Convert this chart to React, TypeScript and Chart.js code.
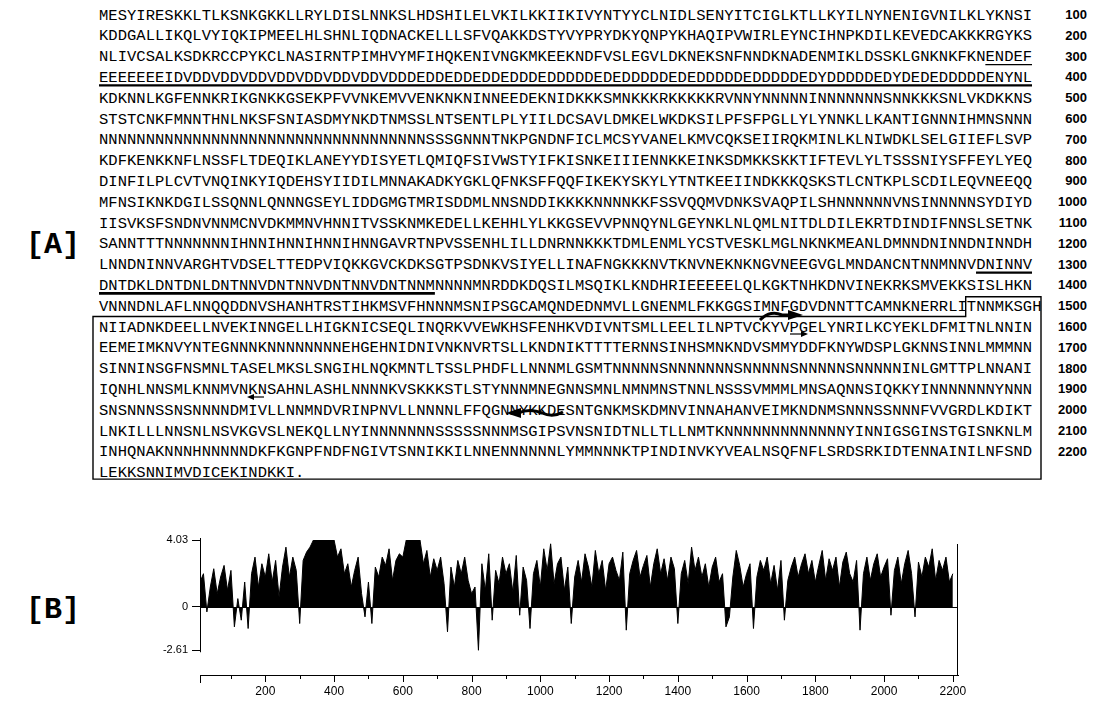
import React, { useEffect, useRef } from "react";
import { Chart, registerables } from "chart.js";

Chart.register(...registerables);

// ---------- data ----------
const sequenceLines: string[] = [
  "MESYIRESKKLTLKSNKGKKLLRYLDISLNNKSLHDSHILELVKILKKIIKIVYNTYYCLNIDLSENYITCIGLKTLLKYILNYNENIGVNILKLYKNSI",
  "KDDGALLIKQLVYIQKIPMEELHLSHNLIQDNACKELLLSFVQAKKDSTYVYPRYDKYQNPYKHAQIPVWIRLEYNCIHNPKDILKEVEDCAKKKRGYKS",
  "NLIVCSALKSDKRCCPYKCLNASIRNTPIMHVYMFIHQKENIVNGKMKEEKNDFVSLEGVLDKNEKSNFNNDKNADENMIKLDSSKLGNKNKFKNENDEF",
  "EEEEEEEIDVDDVDDVDDVDDVDDVDDVDDVDDDEDDEDDEDDEDDDEDDDDDEDEDDDDDEDEDDDDDEDDDDDEDYDDDDDEDYDEDEDDDDDENYNL",
  "KDKNNLKGFENNKRIKGNKKGSEKPFVVNKEMVVENKNKNINNEEDEKNIDKKKSMNKKKRKKKKKRVNNYNNNNNINNNNNNNSNNKKKSNLVKDKKNS",
  "STSTCNKFMNNTHNLNKSFSNIASDMYNKDTNMSSLNTSENTLPLYIILDCSAVLDMKELWKDKSILPFSFPGLLYLYNNKLLKANTIGNNNIHMNSNNN",
  "NNNNNNNNNNNNNNNNNNNNNNNNNNNNNNNNNNNSSSGNNNTNKPGNDNFICLMCSYVANELKMVCQKSEIIRQKMINLKLNIWDKLSELGIIEFLSVP",
  "KDFKENKKNFLNSSFLTDEQIKLANEYYDISYETLQMIQFSIVWSTYIFKISNKEIIIENNKKEINKSDMKKSKKTIFTEVLYLTSSSNIYSFFEYLYEQ",
  "DINFILPLCVTVNQINKYIQDEHSYIIDILMNNAKADKYGKLQFNKSFFQQFIKEKYSKYLYTNTKEEIINDKKKQSKSTLCNTKPLSCDILEQVNEEQQ",
  "MFNSIKNKDGILSSQNNLQNNNGSEYLIDDGMGTMRISDDMLNNSNDDIKKKKNNNNKKFSSVQQMVDNKSVAQPILSHNNNNNNVNSINNNNNSYDIYD",
  "IISVKSFSNDNVNNMCNVDKMMNVHNNITVSSKNMKEDELLKEHHLYLKKGSEVVPNNQYNLGEYNKLNLQMLNITDLDILEKRTDINDIFNNSLSETNK",
  "SANNTTTNNNNNNNIHNNIHNNIHNNIHNNGAVRTNPVSSENHLILLDNRNNKKKTDMLENMLYCSTVESKLMGLNKNKMEANLDMNNDNINNDNINNDH",
  "LNNDNINNVARGHTVDSELTTEDPVIQKKGVCKDKSGTPSDNKVSIYELLINAFNGKKKNVTKNVNEKNKNGVNEEGVGLMNDANCNTNNMNNVDNINNV",
  "DNTDKLDNTDNLDNTNNVDNTNNVDNTNNVDNTNNMNNNNMNRDDKDQSILMSQIKLKNDHRIEEEEELQLKGKTNHKDNVINEKRKSMVEKKSISLHKN",
  "VNNNDNLAFLNNQQDDNVSHANHTRSTIHKMSVFHNNNMSNIPSGCAMQNDEDNMVLLGNENMLFKKGGSIMNFGDVDNNTTCAMNKNERRLITNNMKSGH",
  "NIIADNKDEELLNVEKINNGELLHIGKNICSEQLINQRKVVEWKHSFENHKVDIVNTSMLLEELILNPTVCKYVPGELYNRILKCYEKLDFMITNLNNIN",
  "EEMEIMKNVYNTEGNNNKNNNNNNNNEHGEHNIDNIVNKNVRTSLLKNDNIKTTTTERNNSINHSMNKNDVSMMYDDFKNYWDSPLGKNNSINNLMMMNN",
  "SINNINSGFNSMNLTASELMKSLSNGIHLNQKMNTLTSSLPHDFLLNNNMLGSMTNNNNNSNNNNNNNSNNNNNSNNNNNSNNNNNINLGMTTPLNNANI",
  "IQNHLNNSMLKNNMVNKNSAHNLASHLNNNNKVSKKKSTLSTYNNNMNEGNNSMNLNMNMNSTNNLNSSSVMMMLMNSAQNNSIQKKYINNNNNNNYNNN",
  "SNSNNNSSNSNNNNDMIVLLNNMNDVRINPNVLLNNNNLFFQGNNYKKDESNTGNKMSKDMNVINNAHANVEIMKNDNMSNNNSSNNNFVVGRDLKDIKT",
  "LNKILLLNNSNLNSVKGVSLNEKQLLNYINNNNNNNSSSSSNNNMSGIPSVNSNIDTNLLTLLNMTKNNNNNNNNNNNNNYINNIGSGINSTGISNKNLM",
  "INHQNAKNNNHNNNNNDKFKGNPFNDFNGIVTSNNIKKILNNENNNNNNLYMMNNNKTPINDINVKYVEALNSQFNFLSRDSRKIDTENNAINILNFSND",
  "LEKKSNNIMVDICEKINDKKI.",
];

const lineNumbers: string[] = [
  "100", "200", "300", "400", "500", "600", "700", "800", "900", "1000", "1100",
  "1200", "1300", "1400", "1500", "1600", "1700", "1800", "1900", "2000", "2100", "2200",
];

const panelLabels: string[] = ["[A]", "[B]"];

// hydrophilicity profile, sampled every 10 residues starting at residue 10
const profileStart = 10;
const profileStep = 10;
const hydrophilicity: number[] = [
  1.5, 2.0, -0.3, 1.2, 2.3, 0.8, 1.8, 2.5, 1.0, 2.2,
  -1.2, 0.5, -0.8, 1.5, -1.3, 2.0, 3.0, 1.2, 2.6, 1.8,
  3.2, 1.5, 2.8, 0.6, 2.4, 3.6, 1.8, 3.0, 2.2, -1.0,
  2.8, 3.3, 3.6, 4.03, 4.03, 4.03, 4.03, 4.03, 4.03, 4.03,
  3.0, 3.5, 2.0, 2.6, 1.2, 2.2, 3.0, 0.8, -0.6, 1.5,
  -1.0, 2.4, 1.8, 3.0, 2.5, 3.5, 1.6, 2.8, 3.2, 3.0,
  4.03, 4.03, 4.03, 4.03, 4.03, 2.6, 3.4, 1.8, 2.9, 2.2,
  3.0, 1.4, -1.5, 2.4, 1.2, 2.8, 2.0, 3.0, 1.6, 0.8,
  1.2, -2.61, 2.6, 1.0, 3.2, -0.8, 2.2, 1.4, 3.0, 2.0,
  2.6, 0.9, 3.1, -0.5, 2.4, 1.6, -1.3, 2.0, 2.8, 1.2,
  3.5, 2.2, 3.8, 1.4, 2.6, 3.0, 1.0, 2.4, -1.0, 1.8,
  2.8, 1.5, 3.2, 2.4, 1.2, 3.4, 2.0, 2.8, 1.0, 2.6,
  3.0, 2.2, 1.6, 3.3, -1.4, 2.0, 2.8, 3.4, 1.8, 2.5,
  3.1, 1.2, 2.6, 3.5, 2.0, 2.9, 1.6, 3.0, 2.3, -1.0,
  2.0, 2.8, 1.4, 3.6, 2.2, 3.0, 1.8, 2.6, 1.2, 2.4,
  3.0, 1.5, 2.0, -1.2, -0.6, 1.8, 3.4, 2.5, 1.2, 2.0,
  2.6, -1.3, 1.8, 2.8, 2.2, 3.0, 1.4, 2.5, 1.0, 2.8,
  -0.8, 1.6, 2.4, 3.0, 1.8, 2.6, 3.2, 2.0, 2.8, 1.5,
  2.5, 3.4, 1.6, 2.9, 2.2, 3.0, 1.2, 2.7, 3.3, 2.0,
  1.5, 2.8, -1.4, 2.0, 3.0, 1.6, 2.6, 3.2, 1.8, 2.4,
  2.9, -0.5, 2.2, 3.0, 1.4, 2.6, 3.4, 2.0, -0.6, 2.7,
  1.8, 3.0, 2.4, 3.5, 1.6, 2.8, 2.2, 3.0, 1.5, 2.0,
];

const yTickValues: number[] = [4.03, 0, -2.61];
const yTickLabels: string[] = ["4.03", "0", "-2.61"];
const xTickValues: number[] = [
  100, 200, 300, 400, 500, 600, 700, 800, 900, 1000, 1100,
  1200, 1300, 1400, 1500, 1600, 1700, 1800, 1900, 2000, 2100, 2200,
];

// ---------- layout ----------
const X0 = 99;
const CW = 9.33;
const Y0 = 15;
const LH = 20.8;
const cy = (i: number) => Y0 + i * LH;
const cx = (c: number) => X0 + c * CW;

const underlines = [
  { line: 2, from: 95, to: 100, w: 1.3 },
  { line: 3, from: 0, to: 100, w: 2.4 },
  { line: 12, from: 94, to: 100, w: 2.4 },
  { line: 13, from: 0, to: 36, w: 2.8 },
];

function ProfileChart() {
  const ref = useRef<HTMLCanvasElement | null>(null);
  useEffect(() => {
    if (!ref.current) return;
    const points = hydrophilicity.map((v, i) => ({ x: profileStart + i * profileStep, y: v }));
    const axisPlugin = {
      id: "axisDeco",
      afterDraw(chart: any) {
        const { ctx, chartArea, scales } = chart;
        const xs = scales.x;
        const ys = scales.y;
        ctx.save();
        ctx.strokeStyle = "#000";
        ctx.lineWidth = 1;
        ctx.beginPath();
        ctx.moveTo(chartArea.left + 0.5, ys.getPixelForValue(4.03) - 2);
        ctx.lineTo(chartArea.left + 0.5, ys.getPixelForValue(-2.61) + 2);
        ctx.stroke();
        const y0 = Math.round(ys.getPixelForValue(0)) + 0.5;
        ctx.beginPath();
        ctx.moveTo(chartArea.left, y0);
        ctx.lineTo(chartArea.right, y0);
        ctx.stroke();
        ctx.beginPath();
        ctx.moveTo(chartArea.right - 0.5, chartArea.top + 4);
        ctx.lineTo(chartArea.right - 0.5, chartArea.bottom);
        ctx.stroke();
        const yb = chartArea.bottom;
        ctx.beginPath();
        ctx.moveTo(chartArea.left + 0.5, yb);
        ctx.lineTo(chartArea.left + 0.5, yb + 8);
        xTickValues.forEach((v) => {
          const px = Math.round(xs.getPixelForValue(v)) + 0.5;
          const len = v % 200 === 0 ? 7 : 4;
          ctx.moveTo(px, yb);
          ctx.lineTo(px, yb + len);
        });
        ctx.stroke();
        ctx.restore();
      },
    };
    const chart = new Chart(ref.current, {
      type: "line",
      data: {
        datasets: [
          {
            data: points,
            borderColor: "#000",
            backgroundColor: "#000",
            borderWidth: 1,
            pointRadius: 0,
            fill: "origin",
            tension: 0,
          },
        ],
      },
      options: {
        animation: false,
        responsive: false,
        events: [],
        plugins: { legend: { display: false }, tooltip: { enabled: false } },
        layout: { padding: { left: 0, right: 152, top: 20, bottom: 0 } },
        scales: {
          x: {
            type: "linear",
            min: 10,
            max: 2215,
            afterBuildTicks: (s: any) => {
              s.ticks = xTickValues.map((v) => ({ value: v }));
            },
            afterFit: (s: any) => {
              s.height = 34;
            },
            ticks: {
              autoSkip: false,
              maxRotation: 0,
              padding: 9,
              color: "#000",
              font: { family: "Liberation Sans", size: 12 },
              callback: (v: any) => (Number(v) % 200 === 0 ? String(v) : ""),
            },
            grid: { display: false, drawTicks: false },
            border: { display: true, color: "#000", width: 1 },
          },
          y: {
            min: -4.1,
            max: 4.03,
            afterBuildTicks: (s: any) => {
              s.ticks = yTickValues.map((v) => ({ value: v }));
            },
            afterFit: (s: any) => {
              s.width = 200;
            },
            ticks: {
              padding: 4,
              color: "#000",
              font: { family: "Liberation Sans", size: 11 },
              callback: (_v: any, i: number) => yTickLabels[i],
            },
            grid: { display: true, drawOnChartArea: false, drawTicks: true, tickLength: 8, color: "#000" },
            border: { display: false },
          },
        },
      },
      plugins: [axisPlugin],
    } as any);
    return () => chart.destroy();
  }, []);
  return (
    <div style={{ position: "absolute", left: 0, top: 520, width: 1110, height: 189 }}>
      <canvas ref={ref} width={1110} height={189} style={{ width: 1110, height: 189, display: "block" }} />
    </div>
  );
}

export default function App() {
  const top15 = cy(14) - 9.5;
  const top16 = cy(15) - 10.5;
  const bottom = cy(22) + 6.5;
  const left = 93;
  const right = 1041;
  const notch = cx(93) - 1;
  const labelStyle: React.CSSProperties = {
    position: "absolute",
    left: 26,
    lineHeight: "34px",
    fontFamily: "'Liberation Mono', monospace",
    fontWeight: "bold",
    fontSize: 30,
    color: "#000",
  };
  return (
    <div
      style={{
        position: "fixed",
        left: 0,
        top: 0,
        width: 1110,
        height: 709,
        background: "#fff",
        overflow: "hidden",
      }}
    >
      {sequenceLines.map((s, i) => (
        <div
          key={"l" + i}
          style={{
            position: "absolute",
            left: X0,
            top: cy(i) - 9.4,
            height: LH,
            lineHeight: LH + "px",
            fontFamily: "'Liberation Mono', monospace",
            fontSize: 15.5,
            letterSpacing: "0.03px",
            whiteSpace: "pre",
            color: "#000",
          }}
        >
          {s}
        </div>
      ))}
      {lineNumbers.map((n, i) => (
        <div
          key={"n" + i}
          style={{
            position: "absolute",
            right: 1110 - 1087,
            top: cy(i) - 8,
            lineHeight: "16px",
            fontFamily: "'Liberation Sans', Arial, sans-serif",
            fontWeight: "bold",
            fontSize: 13,
            color: "#000",
          }}
        >
          {n}
        </div>
      ))}
      <div style={{ ...labelStyle, top: 228 }}>{panelLabels[0]}</div>
      <div style={{ ...labelStyle, top: 593 }}>{panelLabels[1]}</div>
      <svg
        width={1110}
        height={520}
        style={{ position: "absolute", left: 0, top: 0, pointerEvents: "none" }}
      >
        {underlines.map((u, k) => (
          <line
            key={"u" + k}
            x1={cx(u.from)}
            x2={cx(u.to)}
            y1={cy(u.line) + 8}
            y2={cy(u.line) + 8}
            stroke="#000"
            strokeWidth={u.w}
          />
        ))}
        <path
          d={`M ${left} ${top16} L ${notch} ${top16} L ${notch} ${top15} L ${right} ${top15} L ${right} ${bottom} L ${left} ${bottom} Z`}
          fill="none"
          stroke="#000"
          strokeWidth={1.4}
        />
        <path d="M 760 320 Q 770 310 782 315 L 792 315" fill="none" stroke="#000" strokeWidth={3} />
        <polygon points="788,310 803,315 788,320" fill="#000" />
        <path d="M 790 334 L 804 334" fill="none" stroke="#000" strokeWidth={1.2} />
        <polygon points="801,331 808,334 801,337" fill="#000" />
        <path d="M 264 397 L 251 397" fill="none" stroke="#000" strokeWidth={1.2} />
        <polygon points="254,394 247,397 254,400" fill="#000" />
        <path d="M 518 413 Q 530 408 542 413 Q 553 418 563 412" fill="none" stroke="#000" strokeWidth={3} />
        <polygon points="521,408 506,413 521,418" fill="#000" />
      </svg>
      <ProfileChart />
    </div>
  );
}
